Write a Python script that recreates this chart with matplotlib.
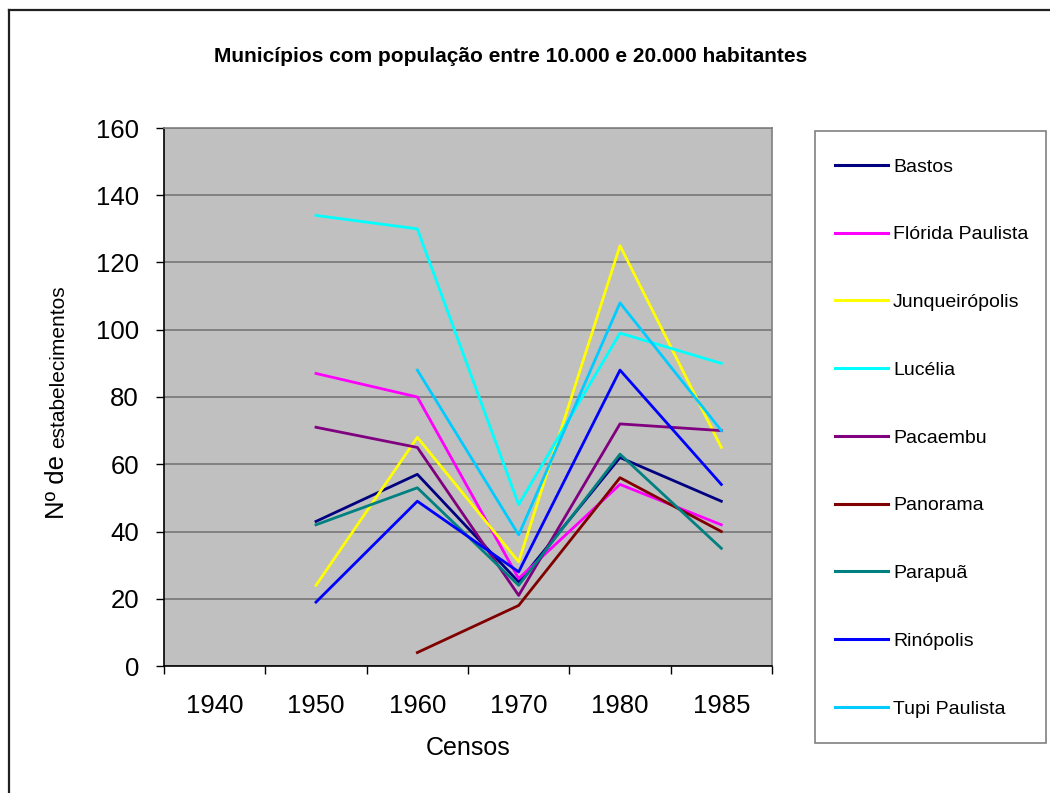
import numpy as np
import matplotlib
matplotlib.use("Agg")
import matplotlib.pyplot as plt
from matplotlib.lines import Line2D
from matplotlib.patches import Rectangle

plt.rcParams['font.family'] = ['Liberation Sans', 'DejaVu Sans']

years = ['1940', '1950', '1960', '1970', '1980', '1985']
nan = np.nan
bastos = [nan, 43, 57, 25, 62, 49]
florida = [nan, 87, 80, 26, 54, 42]
junqueiro = [nan, 24, 68, 31, 125, 65]
lucelia = [nan, 134, 130, 48, 99, 90]
pacaembu = [nan, 71, 65, 21, 72, 70]
panorama = [nan, nan, 4, 18, 56, 40]
parapua = [nan, 42, 53, 24, 63, 35]
rinopolis = [nan, 19, 49, 28, 88, 54]
tupi = [nan, nan, 88, 39, 108, 70]

names = ['Bastos', 'Flórida Paulista', 'Junqueirópolis', 'Lucélia', 'Pacaembu',
         'Panorama', 'Parapuã', 'Rinópolis', 'Tupi Paulista']
series = [bastos, florida, junqueiro, lucelia, pacaembu, panorama, parapua, rinopolis, tupi]
colors = ['#000080', '#FF00FF', '#FFFF00', '#00FFFF', '#800080',
          '#800000', '#008080', '#0000FF', '#00CCFF']

W, H = 1050, 793
fig = plt.figure(figsize=(W / 100, H / 100), dpi=100)
fig.patch.set_facecolor('white')

ax = fig.add_axes([164 / W, 1 - 666 / H, 608 / W, 538 / H])
ax.set_facecolor('#C0C0C0')
x = np.arange(len(years))
for name, s, c in zip(names, series, colors):
    ax.plot(x, np.array(s, dtype=float), color=c, lw=2.0, label=name, zorder=3)

ax.set_xlim(-0.5, len(years) - 0.5)
ax.set_ylim(0, 160)
ax.set_yticks(np.arange(0, 161, 20))
ax.tick_params(axis='y', direction='out', length=6, width=1, labelsize=18.5, pad=12, colors='black')
ax.set_xticks(np.arange(-0.5, len(years), 1))
ax.set_xticklabels([])
ax.set_xticks(x, minor=True)
ax.set_xticklabels(years, minor=True, fontsize=18.5)
ax.tick_params(axis='x', which='major', direction='out', length=6, width=1)
ax.tick_params(axis='x', which='minor', length=0, pad=20)
ax.yaxis.grid(True, color='#707070', lw=1.1, zorder=1)
ax.set_axisbelow(True)
for sp in ['top', 'right']:
    ax.spines[sp].set_color('#808080')
    ax.spines[sp].set_linewidth(1.2)
for sp in ['left', 'bottom']:
    ax.spines[sp].set_color('black')
    ax.spines[sp].set_linewidth(1.2)

fig.text(468 / W, 1 - 748 / H, 'Censos', fontsize=18, ha='center', va='center')
fig.text(511 / W, 1 - 56 / H, 'Municípios com população entre 10.000 e 20.000 habitantes',
         fontsize=15, fontweight='bold', ha='center', va='center')
fig.text(64 / W, 1 - 519 / H, 'Nº de', fontsize=18.5, rotation=90, rotation_mode='anchor',
         ha='left', va='baseline')
fig.text(64 / W, 1 - 448 / H, 'estabelecimentos', fontsize=15, rotation=90,
         rotation_mode='anchor', ha='left', va='baseline')

fig.add_artist(Rectangle((815 / W, 1 - 743 / H), (1046 - 815) / W, (743 - 131) / H,
                         transform=fig.transFigure, facecolor='white',
                         edgecolor='#808080', lw=1.2, zorder=-1))
leg = ax.legend(loc='upper left', bbox_to_anchor=(835 / W, 1 - 158 / H),
                bbox_transform=fig.transFigure, fontsize=14, frameon=False,
                borderpad=0, labelspacing=2.58, handlelength=2.73,
                handletextpad=0.26, borderaxespad=0)
for l in leg.get_lines():
    l.set_linewidth(2.2)

fig.add_artist(Line2D([9 / W, 1], [1 - 10 / H, 1 - 10 / H], color='#202020', lw=1.6,
                      transform=fig.transFigure))
fig.add_artist(Line2D([9 / W, 9 / W], [0, 1 - 10 / H], color='#202020', lw=1.6,
                      transform=fig.transFigure))

fig.savefig('out.png', dpi=100)
